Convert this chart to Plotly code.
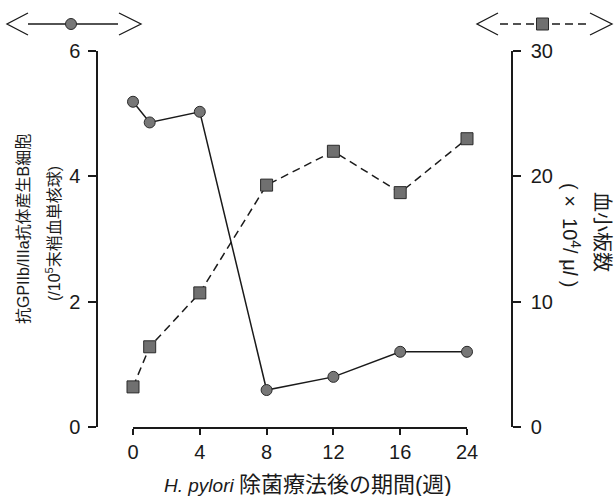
import numpy as np
import plotly.graph_objects as go

# ---- data ----
weeks = [0, 1, 4, 8, 12, 16, 24]
b_cells = [5.19, 4.86, 5.03, 0.59, 0.80, 1.20, 1.20]        # /10^5 PBMC
platelets = [3.2, 6.4, 10.7, 19.3, 22.0, 18.7, 23.0]         # x10^4/ul
tick_weeks = [0, 4, 8, 12, 16, 24]
tick_labels = ["0", "4", "8", "12", "16", "24"]
left_ticks = [0, 2, 4, 6]
right_ticks = [0, 10, 20, 30]

# x positions on an evenly spaced week scale
xpos = np.interp(weeks, tick_weeks, np.arange(len(tick_weeks)))

W, H = 614, 496
L, R, T, B = 97, 512, 51, 427   # paper box in pixels


def px(x):
    return (x - L) / (R - L)


def py(y):
    return (B - y) / (B - T)


FONT = "Liberation Sans, Arial, Noto Sans CJK JP"
INK = "#1a1a1a"

fig = go.Figure()
fig.add_trace(go.Scatter(
    x=xpos, y=b_cells, mode="lines+markers", yaxis="y", cliponaxis=False,
    line=dict(color=INK, width=1.5),
    marker=dict(symbol="circle", size=11, color="#777777",
                line=dict(color="#2a2a2a", width=1)),
    showlegend=False))
fig.add_trace(go.Scatter(
    x=xpos, y=platelets, mode="lines+markers", yaxis="y2", cliponaxis=False,
    line=dict(color=INK, width=1.5, dash="8px,5px"),
    marker=dict(symbol="square", size=12, color="#707070",
                line=dict(color="#2a2a2a", width=1)),
    showlegend=False))

axis_common = dict(showline=True, linecolor=INK, linewidth=1.5, ticks="outside",
                   tickcolor=INK, tickwidth=1.5, showgrid=False, zeroline=False,
                   tickfont=dict(family=FONT, size=20, color=INK))

fig.update_layout(
    width=W, height=H,
    margin=dict(l=L, r=W - R, t=T, b=H - B, autoexpand=False),
    paper_bgcolor="white", plot_bgcolor="white",
    font=dict(family=FONT, color=INK),
    xaxis=dict(axis_common, domain=[px(133), px(467)], range=[0, len(tick_weeks) - 1],
               tickvals=list(range(len(tick_weeks))), ticktext=tick_labels,
               ticklen=6, ticklabelstandoff=0, anchor="y"),
    yaxis=dict(axis_common, range=[0, 6], tickvals=left_ticks, ticklen=8,
               anchor="free", position=0, side="left", ticklabelstandoff=4),
    yaxis2=dict(axis_common, range=[0, 30], tickvals=right_ticks, ticklen=8,
                anchor="free", position=1, side="right", overlaying="y",
                ticklabelstandoff=6),
)

ann = []
ann.append(dict(x=px(308), y=py(484), xref="paper", yref="paper",
                text="<i>H. pylori</i> <span style='font-size:22px'>除菌療法後の期間(週)</span>",
                showarrow=False,
                font=dict(family=FONT, size=19, color=INK),
                xanchor="center", yanchor="middle"))
ann.append(dict(x=px(23), y=py(229), xref="paper", yref="paper",
                text="抗GPIIb/IIIa抗体産生B細胞", showarrow=False, textangle=-90,
                font=dict(family=FONT, size=16, color=INK),
                xanchor="center", yanchor="middle"))
ann.append(dict(x=px(53), y=py(234), xref="paper", yref="paper",
                text="(/10<sup>5</sup>末梢血単核球)", showarrow=False, textangle=-90,
                font=dict(family=FONT, size=16, color=INK),
                xanchor="center", yanchor="middle"))
ann.append(dict(x=px(602), y=py(232), xref="paper", yref="paper",
                text="血小板数", showarrow=False, textangle=90,
                font=dict(family=FONT, size=20, color=INK),
                xanchor="center", yanchor="middle"))
ann.append(dict(x=px(572), y=py(235), xref="paper", yref="paper",
                text="(&nbsp;×&nbsp;&nbsp;10<sup>4</sup>/&nbsp;μ<i>l</i>&nbsp;)",
                showarrow=False, textangle=90,
                font=dict(family=FONT, size=20, color=INK),
                xanchor="center", yanchor="middle"))
fig.update_layout(annotations=ann)

# ---- legend keys drawn above the axes ----
def path(points):
    return "M " + " L ".join(f"{px(a):.5f},{py(b):.5f}" for a, b in points)

shapes = []
lk = dict(color=INK, width=1.3)
shapes.append(dict(type="path", xref="paper", yref="paper",
                   path=path([(28, 13), (7, 24), (28, 35)]), line=lk))
shapes.append(dict(type="path", xref="paper", yref="paper",
                   path=path([(119, 13), (141, 24), (119, 35)]), line=lk))
shapes.append(dict(type="line", xref="paper", yref="paper",
                   x0=px(28), x1=px(118), y0=py(24), y1=py(24),
                   line=dict(color=INK, width=1.5)))
shapes.append(dict(type="circle", xref="paper", yref="paper",
                   x0=px(65.5), x1=px(76.5), y0=py(29.5), y1=py(18.5),
                   fillcolor="#777777", line=dict(color="#2a2a2a", width=1)))
shapes.append(dict(type="path", xref="paper", yref="paper",
                   path=path([(498, 13), (477, 24), (498, 35)]), line=lk))
shapes.append(dict(type="path", xref="paper", yref="paper",
                   path=path([(590, 13), (612, 24), (590, 35)]), line=lk))
shapes.append(dict(type="line", xref="paper", yref="paper",
                   x0=px(500), x1=px(590), y0=py(24), y1=py(24),
                   line=dict(color=INK, width=1.5, dash="8px,5px")))
shapes.append(dict(type="rect", xref="paper", yref="paper",
                   x0=px(536.5), x1=px(548.5), y0=py(30), y1=py(18),
                   fillcolor="#707070", line=dict(color="#2a2a2a", width=1)))
fig.update_layout(shapes=shapes)

fig.write_html("out.html", config={"displayModeBar": False},
               post_script="document.body.style.margin='0';document.body.style.padding='0';")
